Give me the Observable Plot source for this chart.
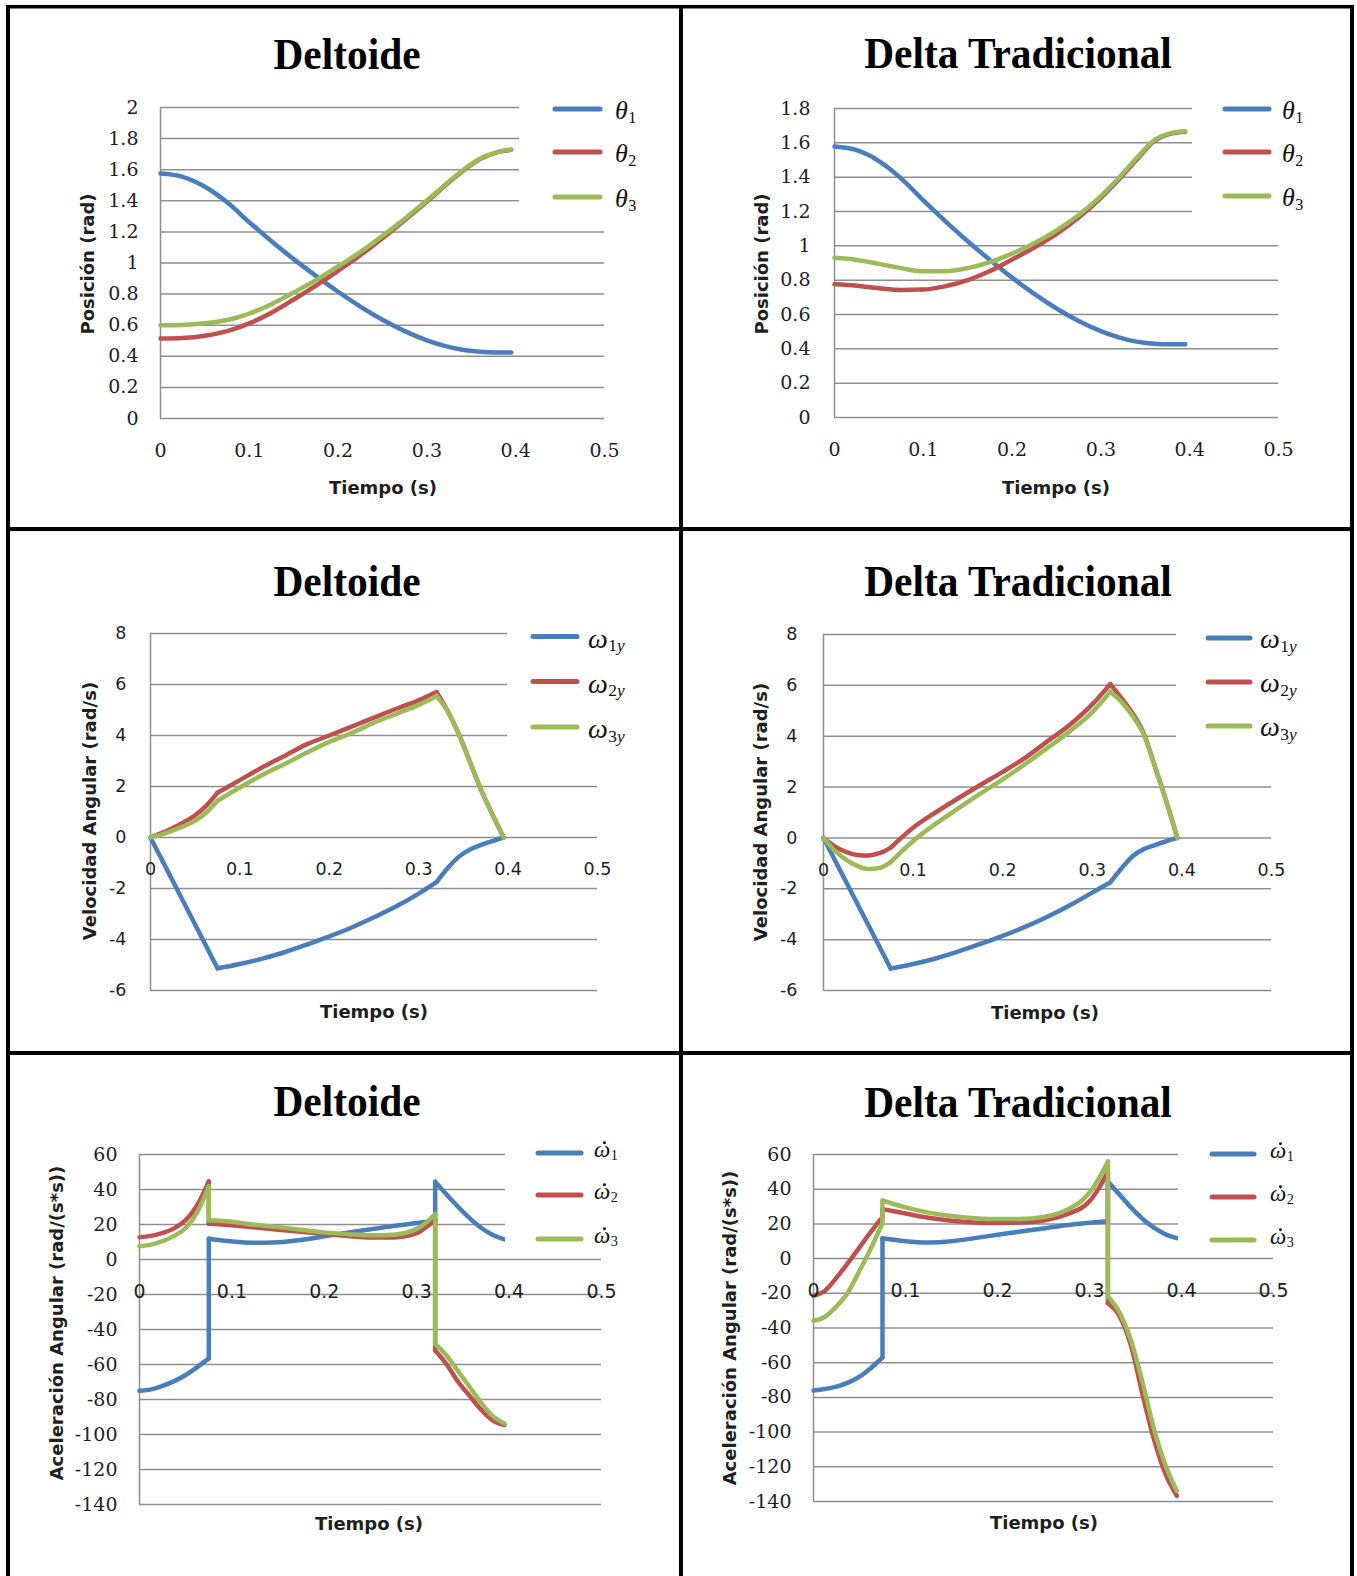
<!DOCTYPE html>
<html>
<head>
<meta charset="utf-8">
<script src="https://cdn.jsdelivr.net/npm/d3@7"></script>
<script src="https://cdn.jsdelivr.net/npm/@observablehq/plot@0.6"></script>
<style>
  html, body { margin: 0; padding: 0; background: #fff; }
  #page { position: relative; width: 1357px; height: 1576px; overflow: hidden; background: #fff; }
  #page svg { position: absolute; overflow: visible; }
</style>
</head>
<body>
<div id="page"></div>
<script>
// ---------------- DATA ----------------
const xTicks = [0, 0.1, 0.2, 0.3, 0.4, 0.5];
const posTicksDel = [0, 0.2, 0.4, 0.6, 0.8, 1, 1.2, 1.4, 1.6, 1.8, 2];
const posTicksTrad = [0, 0.2, 0.4, 0.6, 0.8, 1, 1.2, 1.4, 1.6, 1.8];
const velTicks = [-6, -4, -2, 0, 2, 4, 6, 8];
const accTicks = [-140, -120, -100, -80, -60, -40, -20, 0, 20, 40, 60];

const titles = ["Deltoide", "Delta Tradicional", "Deltoide", "Delta Tradicional", "Deltoide", "Delta Tradicional"];
const yTitles = ["Posición (rad)", "Posición (rad)", "Velocidad Angular (rad/s)", "Velocidad Angular (rad/s)",
                 "Aceleración Angular (rad/(s*s))", "Aceleración Angular (rad/(s*s))"];
const xTitle = "Tiempo (s)";

// Position (rad)
const posT = [0, 0.025, 0.05, 0.075, 0.1, 0.125, 0.15, 0.175, 0.2, 0.225, 0.25, 0.275, 0.3, 0.32, 0.34, 0.36, 0.38, 0.395];
const delTheta1 = [1.575, 1.554, 1.49, 1.39, 1.262, 1.14, 1.025, 0.917, 0.815, 0.72, 0.635, 0.562, 0.503, 0.467, 0.442, 0.43, 0.425, 0.424];
const delTheta2 = [0.515, 0.518, 0.532, 0.562, 0.612, 0.68, 0.765, 0.855, 0.95, 1.05, 1.16, 1.275, 1.395, 1.495, 1.59, 1.668, 1.713, 1.728];
const delTheta3 = [0.6, 0.602, 0.612, 0.633, 0.675, 0.735, 0.81, 0.89, 0.978, 1.07, 1.175, 1.285, 1.402, 1.5, 1.595, 1.672, 1.715, 1.73];
const tradTheta1 = [1.578, 1.557, 1.494, 1.393, 1.265, 1.143, 1.027, 0.918, 0.815, 0.72, 0.635, 0.562, 0.503, 0.467, 0.442, 0.43, 0.426, 0.426];
const tradTheta2 = [0.776, 0.768, 0.753, 0.743, 0.745, 0.765, 0.8, 0.853, 0.92, 0.99, 1.07, 1.165, 1.28, 1.385, 1.5, 1.61, 1.655, 1.665];
const tradTheta3 = [0.93, 0.918, 0.895, 0.87, 0.852, 0.852, 0.87, 0.905, 0.955, 1.015, 1.09, 1.18, 1.29, 1.395, 1.51, 1.615, 1.658, 1.667];

// Angular velocity (rad/s)
const velT = [0, 0.0125, 0.025, 0.0375, 0.05, 0.0625, 0.075, 0.1, 0.125, 0.15, 0.175, 0.2, 0.225, 0.25, 0.275, 0.3, 0.32, 0.3325, 0.345, 0.3575, 0.37, 0.3825, 0.395];
const delW1 = [0, -0.855, -1.71, -2.565, -3.42, -4.275, -5.13, -4.96, -4.75, -4.5, -4.2, -3.88, -3.53, -3.13, -2.7, -2.2, -1.75, -1.2, -0.75, -0.47, -0.29, -0.14, 0];
const delW2 = [0, 0.17, 0.37, 0.6, 0.87, 1.25, 1.76, 2.25, 2.75, 3.2, 3.66, 4.0, 4.35, 4.7, 5.05, 5.38, 5.7, 4.95, 4.05, 2.95, 1.85, 0.9, 0];
const delW3 = [0, 0.12, 0.28, 0.45, 0.66, 0.98, 1.44, 1.96, 2.45, 2.88, 3.33, 3.75, 4.1, 4.5, 4.85, 5.2, 5.55, 4.95, 4.05, 2.95, 1.85, 0.9, 0];
const tradW1 = [0, -0.857, -1.713, -2.57, -3.427, -4.283, -5.14, -4.96, -4.74, -4.47, -4.17, -3.85, -3.5, -3.1, -2.65, -2.15, -1.75, -1.2, -0.72, -0.44, -0.28, -0.13, 0];
const tradW2 = [0, -0.33, -0.55, -0.67, -0.69, -0.6, -0.38, 0.4, 1.0, 1.55, 2.08, 2.6, 3.15, 3.8, 4.45, 5.25, 6.05, 5.5, 4.9, 4.1, 2.8, 1.45, 0];
const tradW3 = [0, -0.5, -0.85, -1.1, -1.22, -1.18, -0.95, -0.12, 0.55, 1.15, 1.74, 2.3, 2.9, 3.54, 4.2, 4.95, 5.75, 5.35, 4.8, 4.05, 2.8, 1.45, 0];

// Angular acceleration (rad/s^2) — repeated times mark the jumps
const accT = [0, 0.0125, 0.025, 0.0375, 0.05, 0.0625, 0.075, 0.075, 0.1, 0.125, 0.15, 0.175, 0.2, 0.225, 0.25, 0.275, 0.3, 0.31, 0.32, 0.32, 0.3325, 0.345, 0.3575, 0.37, 0.3825, 0.395];
const delA1 = [-75, -74.2, -72.2, -69.5, -66, -61.5, -56.5, 11.8, 10.3, 9.6, 9.9, 11.2, 13.2, 15.3, 17.3, 19.2, 20.8, 21.5, 22.2, 44.5, 37, 30, 23.5, 18, 14, 11.5];
const delA2 = [12.7, 13.5, 15.2, 17.8, 22.5, 31, 44.6, 20.5, 19.5, 18.3, 17, 15.8, 14.5, 13.4, 12.6, 12.6, 15, 18.5, 22.5, -52, -60, -70, -78, -86, -92, -94.5];
const delA3 = [7.6, 8.5, 10.5, 13.5, 18, 27, 41.8, 22.4, 21.6, 19.8, 18.5, 17, 15.5, 14.5, 13.8, 14.2, 17.5, 21, 26, -48.2, -55, -64, -73, -82, -89.5, -93.7];
const tradA1 = [-76, -75.2, -73.8, -71.5, -68, -63, -57, 11.7, 10, 9.3, 10, 11.8, 13.7, 15.6, 17.4, 19.2, 20.6, 21.1, 21.5, 44.5, 37, 29.5, 23, 17.8, 14, 11.8];
const tradA2 = [-21.4, -18.5, -11, -2.5, 6.5, 15.5, 24, 28.5, 26, 23.5, 21.8, 20.8, 20.5, 20.8, 22, 25.5, 33, 40.5, 50, -25.7, -33, -50, -78, -104, -124, -136.7];
const tradA3 = [-35.8, -33.5, -27.5, -19.5, -7, 6, 20.5, 33.5, 29.5, 26.5, 24.5, 23.3, 22.8, 22.8, 24, 28, 38, 46, 56, -21.7, -31, -47, -71, -98, -119, -134];

// times where a curve has a corner or a jump
const velKnots = [0.075, 0.32];
const accKnots = [0.075, 0.32];

// legend labels: [base symbol, subscript digit, subscript italic letter, dot]
const legendPos = [["θ", "1", "", false], ["θ", "2", "", false], ["θ", "3", "", false]];
const legendVel = [["ω", "1", "y", false], ["ω", "2", "y", false], ["ω", "3", "y", false]];
const legendAcc = [["ω", "1", "", true], ["ω", "2", "", true], ["ω", "3", "", true]];

// ---------------- STYLE / LAYOUT ----------------
const COLORS = ["#4a7ebb", "#c0504d", "#9bbb59"];
const GRID = "#8f8f8f";
const SERIF = "DejaVu Serif, Liberation Serif, serif";
const SANS = "DejaVu Sans, sans-serif";
const INK = "#1e1e1e";

const panels = [
  {x0: 160, x1: 604, yTop: 107, yBot: 418, yDomain: [0, 2], yTicks: posTicksDel, t: posT, knots: [],
   series: [delTheta1, delTheta2, delTheta3], yFont: SERIF, xFont: SERIF, fs: 19, yPad: 22,
   title: [347, 69], yT: [87, 264], xT: [383, 487],
   legend: legendPos, box: [519, 92, 660, 218], lx: [553, 602], ly: [109, 152, 197], tx: 615, tdy: 10, mfs: 26},
  {x0: 834, x1: 1278, yTop: 108, yBot: 417, yDomain: [0, 1.8], yTicks: posTicksTrad, t: posT, knots: [],
   series: [tradTheta1, tradTheta2, tradTheta3], yFont: SERIF, xFont: SERIF, fs: 19, yPad: 24,
   title: [1018, 68], yT: [761, 264], xT: [1056, 487],
   legend: legendPos, box: [1192, 92, 1345, 226], lx: [1223, 1271], ly: [109, 152, 196], tx: 1282, tdy: 10, mfs: 26},
  {x0: 150, x1: 597, yTop: 633, yBot: 990, yDomain: [-6, 8], yTicks: velTicks, t: velT, knots: velKnots,
   series: [delW1, delW2, delW3], yFont: SANS, xFont: SANS, fs: 17.5, yPad: 24,
   title: [347, 596], yT: [89, 811], xT: [374, 1011],
   legend: legendVel, box: [507, 615, 675, 757], lx: [531, 579], ly: [636.5, 681.5, 727], tx: 588, tdy: 11, mfs: 28},
  {x0: 823, x1: 1271, yTop: 634, yBot: 990, yDomain: [-6, 8], yTicks: velTicks, t: velT, knots: velKnots,
   series: [tradW1, tradW2, tradW3], yFont: SANS, xFont: SANS, fs: 17.5, yPad: 26,
   title: [1018, 596], yT: [760, 812], xT: [1045, 1012],
   legend: legendVel, box: [1176, 615, 1345, 757], lx: [1206, 1252], ly: [638, 682, 726], tx: 1260, tdy: 10, mfs: 28},
  {x0: 139, x1: 601, yTop: 1154, yBot: 1504, yDomain: [-140, 60], yTicks: accTicks, t: accT, knots: accKnots,
   series: [delA1, delA2, delA3], yFont: SERIF, xFont: SANS, fs: 19, yPad: 22,
   title: [347, 1116], yT: [56, 1323], xT: [369, 1523],
   legend: legendAcc, box: [505, 1135, 675, 1242], lx: [536, 583], ly: [1153, 1195, 1239], tx: 594, tdy: 4, mfs: 23},
  {x0: 813, x1: 1273, yTop: 1154, yBot: 1501, yDomain: [-140, 60], yTicks: accTicks, t: accT, knots: accKnots,
   series: [tradA1, tradA2, tradA3], yFont: SERIF, xFont: SANS, fs: 19, yPad: 22,
   title: [1018, 1117], yT: [729, 1328], xT: [1044, 1522],
   legend: legendAcc, box: [1178, 1135, 1345, 1242], lx: [1210, 1256], ly: [1154, 1197, 1240], tx: 1270, tdy: 4, mfs: 23}
];

// split a series into smooth pieces at corner / jump times
function pieces(t, v, knots) {
  const out = [];
  let seg = 0;
  for (let k = 0; k < t.length; k++) {
    out.push({t: t[k], v: v[k], seg});
    if (k > 0 && k < t.length - 1 && knots.includes(t[k])) {
      seg++;
      out.push({t: t[k], v: v[k], seg});
    }
  }
  return out;
}

const page = document.getElementById("page");
const ML = 110, MR = 30, MT = 20, MB = 60;

panels.forEach((p) => {
  const width = (p.x1 - p.x0) + ML + MR;
  const height = (p.yBot - p.yTop) + MT + MB;
  const lineMarks = p.series.map((vals, i) =>
    Plot.line(pieces(p.t, vals, p.knots), {
      x: "t", y: "v", z: "seg", stroke: COLORS[i], strokeWidth: 4.5, curve: "monotone-x",
      strokeLinejoin: "round", strokeLinecap: "round"
    })
  );
  const chart = Plot.plot({
    width, height, marginLeft: ML, marginRight: MR, marginTop: MT, marginBottom: MB,
    x: {domain: [0, 0.5], axis: null},
    y: {domain: p.yDomain, axis: null},
    style: {background: "transparent", overflow: "visible"},
    marks: [
      Plot.ruleY(p.yTicks, {stroke: GRID, strokeWidth: 1.5}),
      Plot.ruleX([0], {stroke: GRID, strokeWidth: 1.5}),
      ...lineMarks,
      Plot.text(p.yTicks, {y: d => d, frameAnchor: "left", dx: -p.yPad, textAnchor: "end",
        text: d => String(d), fontFamily: p.yFont, fontSize: p.fs, fill: INK}),
      Plot.text(xTicks, {x: d => d, y: () => 0, dy: 32, text: d => String(d),
        fontFamily: p.xFont, fontSize: p.fs, fill: INK})
    ]
  });
  chart.style.left = (p.x0 - ML) + "px";
  chart.style.top = (p.yTop - MT) + "px";
  page.appendChild(chart);
});

// ---------------- OVERLAY: titles, axis titles, legends, borders ----------------
const svg = d3.select(page).append("svg")
  .attr("width", 1357).attr("height", 1576)
  .style("left", "0px").style("top", "0px");

const MATH = "Liberation Serif, Times New Roman, serif";

panels.forEach((p, pi) => {
  svg.append("text")
    .attr("transform", `translate(${p.title[0]},${p.title[1]}) scale(0.92,1)`)
    .attr("text-anchor", "middle")
    .attr("font-family", "Liberation Serif, Times New Roman, serif")
    .attr("font-weight", "bold").attr("font-size", 45).attr("fill", "#000")
    .text(titles[pi]);
  svg.append("text")
    .attr("transform", `translate(${p.yT[0]},${p.yT[1]}) rotate(-90)`)
    .attr("text-anchor", "middle").attr("dominant-baseline", "central")
    .attr("font-family", "DejaVu Sans, sans-serif").attr("font-weight", "bold")
    .attr("font-size", 18).attr("fill", INK)
    .text(yTitles[pi]);
  svg.append("text")
    .attr("x", p.xT[0]).attr("y", p.xT[1])
    .attr("text-anchor", "middle").attr("dominant-baseline", "central")
    .attr("font-family", "DejaVu Sans, sans-serif").attr("font-weight", "bold")
    .attr("font-size", 18).attr("fill", INK)
    .text(xTitle);
  svg.append("rect")
    .attr("x", p.box[0]).attr("y", p.box[1])
    .attr("width", p.box[2] - p.box[0]).attr("height", p.box[3] - p.box[1])
    .attr("fill", "#fff");
  p.legend.forEach((lg, i) => {
    const y = p.ly[i];
    svg.append("line")
      .attr("x1", p.lx[0] + 2).attr("x2", p.lx[1] - 2).attr("y1", y).attr("y2", y)
      .attr("stroke", COLORS[i]).attr("stroke-width", 5).attr("stroke-linecap", "round");
    const base = y + p.tdy;
    const fs = p.mfs;
    const t = svg.append("text")
      .attr("x", p.tx).attr("y", base)
      .attr("font-family", MATH).attr("font-style", "italic")
      .attr("font-size", fs).attr("fill", "#111")
      .text(lg[0]);
    const w = t.node().getComputedTextLength();
    if (lg[3]) {
      svg.append("circle")
        .attr("cx", p.tx + w * 0.55 + 1.5).attr("cy", base - fs * 0.62)
        .attr("r", fs * 0.065).attr("fill", "#111");
    }
    const s = svg.append("text")
      .attr("x", p.tx + w + 0.5).attr("y", base + fs * 0.14)
      .attr("font-family", MATH).attr("font-size", fs * 0.62).attr("fill", "#111");
    s.append("tspan").text(lg[1]);
    if (lg[2]) s.append("tspan").attr("font-style", "italic").text(lg[2]);
  });
});

// table borders
const B = "#000";
const rect = (x, y, w, h) => svg.append("rect").attr("x", x).attr("y", y).attr("width", w).attr("height", h).attr("fill", B);
rect(6, 5, 1348, 3.5);
rect(6, 5, 4, 1571);
rect(1350, 5, 4, 1571);
rect(679, 5, 4, 1571);
rect(6, 527, 1348, 4);
rect(6, 1051, 1348, 4);
</script>
</body>
</html>
